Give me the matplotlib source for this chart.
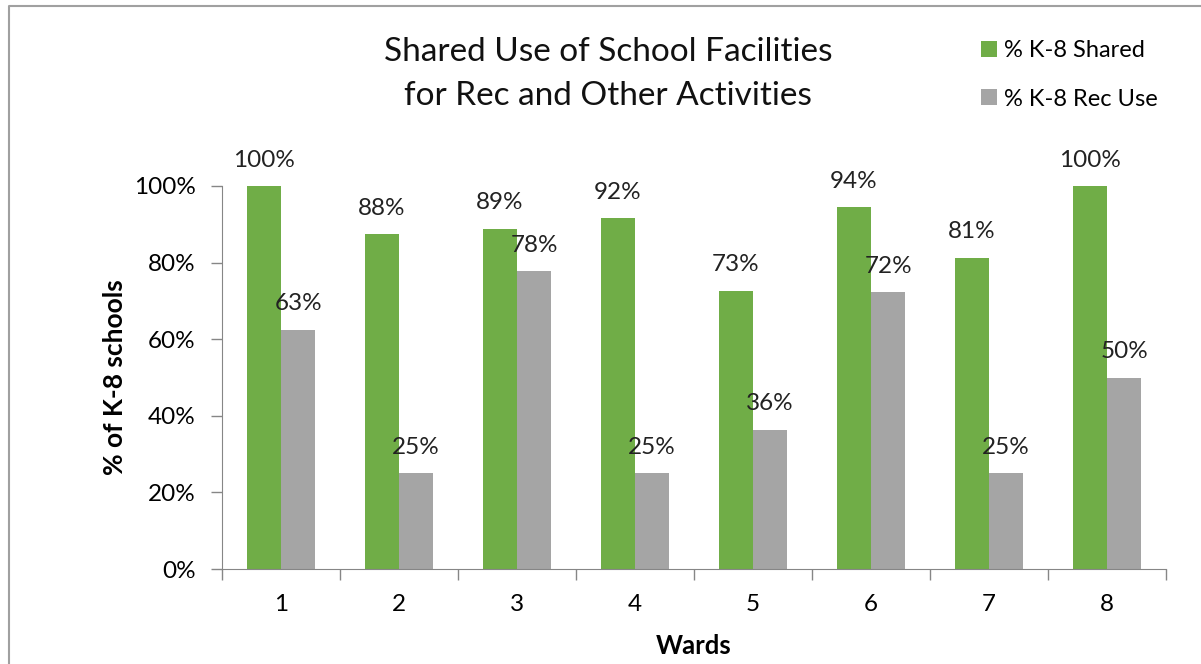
import numpy as np
import matplotlib.pyplot as plt
from matplotlib.lines import Line2D
from matplotlib.ticker import FixedLocator, PercentFormatter

plt.rcParams["font.family"] = ["Lato", "DejaVu Sans"]

wards = ["1", "2", "3", "4", "5", "6", "7", "8"]
shared = [100.0, 87.5, 88.9, 91.7, 72.7, 94.4, 81.3, 100.0]
rec_use = [62.5, 25.0, 77.8, 25.0, 36.4, 72.2, 25.0, 50.0]

green = "#70AD47"
grey = "#A5A5A5"
axis_col = "#868686"

fig = plt.figure(figsize=(12.01, 6.64), dpi=100)
ax = fig.add_axes([222 / 1201, 95 / 664, 944 / 1201, 383 / 664])

x = np.arange(1, len(wards) + 1)
w = 0.29
b1 = ax.bar(x - w / 2, shared, w, color=green, label="% K-8 Shared")
b2 = ax.bar(x + w / 2, rec_use, w, color=grey, label="% K-8 Rec Use")

# value labels above each bar
for bars, vals in [(b1, shared), (b2, rec_use)]:
    for bar, v in zip(bars, vals):
        ax.annotate(f"{int(v + 0.5)}%", (bar.get_x() + bar.get_width() / 2, v),
                    xytext=(0, 18.5), textcoords="offset points",
                    ha="center", va="center", fontsize=17.5, color="#222222")

ax.set_xlim(0.5, len(wards) + 0.5)
ax.set_ylim(0, 100)
ax.yaxis.set_major_locator(FixedLocator([0, 20, 40, 60, 80, 100]))
ax.yaxis.set_major_formatter(PercentFormatter(decimals=0))
ax.set_xticks(x)
ax.set_xticklabels(wards)
ax.set_xticks(np.arange(0.5, len(wards) + 1, 1), minor=True)
ax.tick_params(axis="x", which="major", length=0, pad=18, labelsize=17.5)
ax.tick_params(axis="x", which="minor", length=8, color=axis_col, width=1)
ax.tick_params(axis="y", length=8, color=axis_col, width=1, labelsize=17.5, pad=11)

for s in ["top", "right"]:
    ax.spines[s].set_visible(False)
for s in ["left", "bottom"]:
    ax.spines[s].set_color(axis_col)

ax.set_ylabel("% of K-8 schools", fontsize=19, fontweight="bold", va="center")
ax.yaxis.set_label_coords(-0.113, 0.5)
ax.set_xlabel("Wards", fontsize=18.5, fontweight="bold", labelpad=14)

fig.text(608 / 1201, 1 - 74 / 664, "Shared Use of School Facilities\nfor Rec and Other Activities",
         ha="center", va="center", fontsize=24, linespacing=1.55, color="#111111")

fig.legend(handles=[b1, b2], loc="upper left", bbox_to_anchor=(972 / 1201, 1 - 31 / 664),
           frameon=False, fontsize=17, handlelength=0.65, handleheight=0.65,
           handletextpad=0.3, labelspacing=1.15, borderaxespad=0)

fig.add_artist(Line2D([9 / 1201, 9 / 1201, 1], [0, 1 - 6 / 664, 1 - 6 / 664],
                      transform=fig.transFigure, color="#A0A0A0", lw=1.5))

fig.savefig("out.png", dpi=100)
